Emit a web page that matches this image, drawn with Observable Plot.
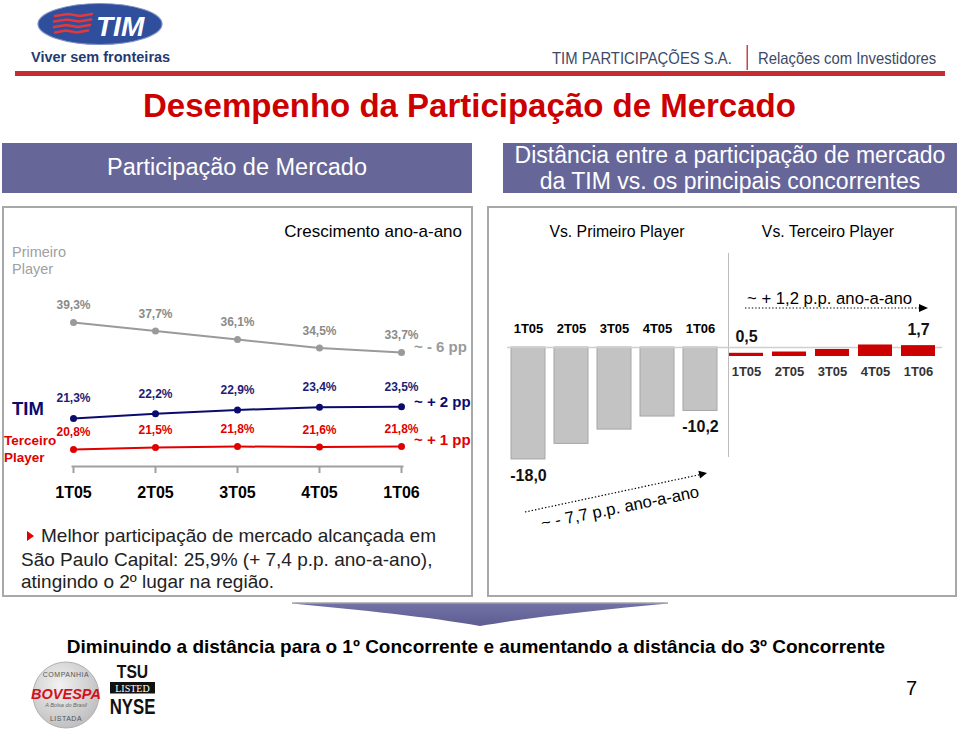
<!DOCTYPE html>
<html><head><meta charset="utf-8">
<script src="https://cdn.jsdelivr.net/npm/d3@7"></script>
<script src="https://cdn.jsdelivr.net/npm/@observablehq/plot@0.6"></script>
<style>
body{margin:0;background:#fff;}
#slide{position:relative;width:959px;height:734px;overflow:hidden;font-family:"Liberation Sans",Arial,sans-serif;background:#fff;}
.box{position:absolute;box-sizing:border-box;}
.plot-wrap{position:absolute;}
.plot-wrap svg{overflow:visible;}
</style></head>
<body><div id="slide"></div>
<script>
// ---------- data ----------
const quarters = ["1T05", "2T05", "3T05", "4T05", "1T06"];
const primeiroShare = [39.3, 37.7, 36.1, 34.5, 33.7];
const timShare = [21.3, 22.2, 22.9, 23.4, 23.5];
const terceiroShare = [20.8, 21.5, 21.8, 21.6, 21.8];
const gapVsPrimeiro = [-18.0, -15.5, -13.2, -11.1, -10.2];
const gapVsTerceiro = [0.5, 0.7, 1.1, 1.8, 1.7];

const slide = document.getElementById("slide");
const FONT = '"Liberation Sans", Arial, sans-serif';
const rows = arr => quarters.map((q, i) => ({q, v: arr[i], i}));
const ends = arr => rows(arr).filter(d => d.i === 0 || d.i === arr.length - 1);
const fmt = v => v.toFixed(1).replace(".", ",");

function T(txt, x, yc, o = {}) {
  const s = o.size || 14;
  const lh = o.lh || 1.15;
  const d = document.createElement("div");
  d.innerHTML = txt;
  const a = o.anchor || "start";
  const tx = a === "middle" ? "translateX(-50%)" : a === "end" ? "translateX(-100%)" : "";
  const sc = o.sx ? ` scaleX(${o.sx})` : "";
  const rot = o.rot ? ` rotate(${o.rot}deg)` : "";
  const top = yc - 0.56 * s + (1.15 - lh) * s / 2;
  d.style.cssText = `position:absolute;white-space:pre;left:${x}px;top:${top}px;font-size:${s}px;line-height:${lh * s}px;` +
    `font-weight:${o.weight || "normal"};color:${o.color || "#000"};font-style:${o.italic ? "italic" : "normal"};` +
    `text-align:${a === "middle" ? "center" : a === "end" ? "right" : "left"};` +
    `transform:${tx}${sc}${rot};transform-origin:${a === "middle" ? "center" : a === "end" ? "right" : "left"} center;`;
  slide.appendChild(d);
  return d;
}
function B(left, top, w, h, css) {
  const d = document.createElement("div");
  d.className = "box";
  d.style.cssText += `left:${left}px;top:${top}px;width:${w}px;height:${h}px;${css}`;
  slide.appendChild(d);
  return d;
}
function mount(svg, left, top) {
  const d = document.createElement("div");
  d.className = "plot-wrap";
  d.style.left = left + "px"; d.style.top = top + "px";
  d.appendChild(svg);
  slide.appendChild(d);
}
const svgStyle = {background: "transparent", overflow: "visible", fontFamily: FONT, color: "#000"};

// ---------- header ----------
T("Viver sem fronteiras", 31, 57, {size: 14.5, weight: "bold", color: "#1f3b73"});
T("TIM PARTICIPAÇÕES S.A.", 552, 58, {size: 16.5, sx: 0.9, color: "#3d4a66"});
T("Relações com Investidores", 758, 58, {size: 16.5, sx: 0.9, color: "#3d4a66"});
T("Desempenho da Participação de Mercado", 143, 105, {size: 33, weight: "bold", color: "#cc0000"});

// section header boxes
B(2, 143, 470, 50, "background:#666699;");
B(503, 143, 454, 50, "background:#666699;");
T("Participação de Mercado", 237, 167, {size: 23.5, color: "#fff", anchor: "middle"});
const hdr = document.createElement("div");
hdr.innerHTML = "Distância entre a participação de mercado<br>da TIM vs. os principais concorrentes";
hdr.style.cssText = "position:absolute;left:503px;width:454px;top:142.2px;text-align:center;font-size:23px;line-height:26px;color:#fff;white-space:nowrap;";
slide.appendChild(hdr);

// panels
B(2, 206, 471, 391, "border:2px solid #a8a8a8;");
B(487, 206, 470, 391, "border:2px solid #a8a8a8;");

// ---------- left panel ----------
T("Crescimento ano-a-ano", 462, 232, {size: 17, anchor: "end"});
T("Primeiro", 12, 252, {size: 14.5, color: "#a0a0a0"});
T("Player", 12, 269, {size: 14.5, color: "#a0a0a0"});
T("TIM", 12, 408, {size: 18.5, weight: "bold", color: "#0b0b6e"});
T("Terceiro", 4, 441, {size: 13.5, weight: "bold", color: "#e00000"});
T("Player", 4, 458, {size: 13.5, weight: "bold", color: "#e00000"});
T("~ - 6 pp", 414, 346, {size: 15, weight: "bold", color: "#9a9a9a"});
T("~ + 2 pp", 414, 401, {size: 15, weight: "bold", color: "#0b0b6e"});
T("~ + 1 pp", 414, 439, {size: 15, weight: "bold", color: "#e00000"});

const lbl = {fontSize: 12, fontWeight: "bold", fontFamily: FONT};

// Primeiro Player + TIM (shared share scale)
const plotA = Plot.plot({
  width: 472, height: 150, marginLeft: 72, marginRight: 70, marginTop: 0, marginBottom: 0,
  style: svgStyle,
  x: {type: "point", domain: quarters, padding: 0, axis: null},
  y: {domain: [20, 40], range: [144.9, 38.3], axis: null},
  marks: [
    Plot.line(rows(primeiroShare), {x: "q", y: "v", stroke: "#9a9a9a", strokeWidth: 2}),
    Plot.dot(rows(primeiroShare), {x: "q", y: "v", r: 3.5, fill: "#9a9a9a"}),
    Plot.text(rows(primeiroShare), {x: "q", y: "v", text: d => fmt(d.v) + "%", dy: -17, fill: "#8a8a8a", ...lbl}),
    Plot.line(rows(timShare), {x: "q", y: "v", stroke: "#0b0b6e", strokeWidth: 2}),
    Plot.dot(rows(timShare), {x: "q", y: "v", r: 3.5, fill: "#0b0b6e"}),
    Plot.text(rows(timShare), {x: "q", y: "v", text: d => fmt(d.v) + "%", dy: -20, fill: "#1c1c74", ...lbl})
  ]
});
mount(plotA, 0, 280);

// Terceiro Player + quarter axis
const plotB = Plot.plot({
  width: 472, height: 230, marginLeft: 72, marginRight: 70, marginTop: 0, marginBottom: 44,
  style: svgStyle,
  x: {type: "point", domain: quarters, padding: 0, label: null},
  y: {domain: [20, 23], range: [171.4, 162.4], axis: null},
  marks: [
    Plot.frame({anchor: "bottom", stroke: "#a0a0a0", strokeWidth: 2}),
    Plot.axisX({label: null, tickSize: 7, tickPadding: 13, stroke: "#a0a0a0", strokeWidth: 2, fontSize: 16, fontWeight: "bold", fontFamily: FONT}),
    Plot.line(rows(terceiroShare), {x: "q", y: "v", stroke: "#e00000", strokeWidth: 2}),
    Plot.dot(rows(terceiroShare), {x: "q", y: "v", r: 3.5, fill: "#e00000"}),
    Plot.text(rows(terceiroShare), {x: "q", y: "v", text: d => fmt(d.v) + "%", dy: -17, fill: "#e00000", ...lbl})
  ]
});
mount(plotB, 0, 280);

// bullet text
B(27, 531, 7, 10, "width:0;height:0;border-left:7px solid #e00000;border-top:5px solid transparent;border-bottom:5px solid transparent;");
T("Melhor participação de mercado alcançada em", 41, 536, {size: 19, color: "#222"});
T("São Paulo Capital: 25,9% (+ 7,4 p.p. ano-a-ano),", 21, 560, {size: 19, color: "#222"});
T("atingindo o 2º lugar na região.", 21, 582, {size: 19, color: "#222"});

// ---------- right panel ----------
T("Vs. Primeiro Player", 617, 232, {size: 15.8, anchor: "middle"});
T("Vs. Terceiro Player", 828, 232, {size: 15.8, anchor: "middle"});
B(728, 253, 1, 204, "background:#bdbdbd;");

const plotGray = Plot.plot({
  width: 470, height: 200, marginLeft: 27, marginRight: 8, marginTop: 47, marginBottom: 0,
  style: svgStyle,
  x: {domain: quarters, range: [25.2, 243.2], paddingInner: 0.22, paddingOuter: 0.11, label: null},
  y: {domain: [-20, 0], range: [171.4, 47], axis: null},
  marks: [
    Plot.barY(rows(gapVsPrimeiro), {x: "q", y: "v", fill: "#c3c3c3", stroke: "#a6a6a6", strokeWidth: 1}),
    Plot.ruleY([0], {stroke: "#cfcfcf", strokeWidth: 1.5}),
    Plot.axisX({anchor: "top", label: null, tickSize: 0, tickPadding: 15, fontSize: 13, fontWeight: "bold", fontFamily: FONT}),
    Plot.text(ends(gapVsPrimeiro), {x: "q", y: "v", text: d => fmt(d.v), dy: 16, fontSize: 16, fontWeight: "bold", fontFamily: FONT, fill: "#111"})
  ]
});
mount(plotGray, 480, 300);

const plotRed = Plot.plot({
  width: 230, height: 100, marginLeft: 0, marginRight: 0, marginTop: 30, marginBottom: 44,
  style: svgStyle,
  x: {domain: quarters, range: [3.2, 221.2], paddingInner: 0.22, paddingOuter: 0.11, label: null},
  y: {domain: [0, 2], range: [56, 43.2], axis: null},
  marks: [
    Plot.barY(rows(gapVsTerceiro), {x: "q", y: "v", fill: "#cc0000"}),
    Plot.axisX({label: null, tickSize: 0, tickPadding: 10, fontSize: 13, fontWeight: "bold", fontFamily: FONT, fill: "#333"}),
    Plot.text(ends(gapVsTerceiro), {x: "q", y: "v", text: d => fmt(d.v), dy: -16, fontSize: 16, fontWeight: "bold", fontFamily: FONT, fill: "#111"})
  ]
});
mount(plotRed, 720, 300);

T("~ + 1,2 p.p. ano-a-ano", 747, 298, {size: 16.7});
T("~ - 7,7 p.p. ano-a-ano", 620, 507, {size: 16.7, anchor: "middle", rot: -11.5});

// ---------- bottom ----------
T("Diminuindo a distância para o 1º Concorrente e aumentando a distância do 3º Concorrente", 476, 647, {size: 19, weight: "bold", anchor: "middle"});
T("7", 906, 688, {size: 20});

// ---------- decorations (logos, rules, arrows) ----------
const deco = `
<svg width="959" height="734" style="position:absolute;left:0;top:0;pointer-events:none" font-family='${FONT}'>
  <defs>
    <linearGradient id="arrowG" x1="0" y1="0" x2="0" y2="1">
      <stop offset="0" stop-color="#7272a6"/><stop offset="1" stop-color="#5d5d93"/>
    </linearGradient>
    <radialGradient id="bovG" cx="0.4" cy="0.35" r="0.7">
      <stop offset="0" stop-color="#f2f2f2"/><stop offset="1" stop-color="#bdbdbd"/>
    </radialGradient>
  </defs>
  <ellipse cx="100" cy="24" rx="62" ry="20.5" fill="#2f4e9c" stroke="#8193c6" stroke-width="1.2"/>
  <g stroke="#e23a3a" stroke-width="2.6" fill="none" stroke-linecap="round">
    <path d="M55 16 L68 14 L80 16 L92 14"/>
    <path d="M54 21.5 L67 19.5 L79 21.5 L91 19.5"/>
    <path d="M54 27 L66 25 L78 27 L90 25"/>
    <path d="M55 32.5 L66 30.5 L77 32.5 L88 30.5"/>
  </g>
  <text x="96" y="35.5" font-size="28" font-weight="bold" font-style="italic" fill="#fff">TIM</text>
  <rect x="15" y="71" width="930" height="5" fill="#c62d33"/>
  <rect x="746.5" y="45" width="1.5" height="25" fill="#c94545"/>
  <line x1="292" y1="603" x2="668" y2="603" stroke="#a5a5a5" stroke-width="1.5"/>
  <path d="M292,603.5 L668,603.5 C600,610 530,617 480,626 C430,617 360,610 292,603.5 Z" fill="url(#arrowG)"/>
  <line x1="745" y1="308" x2="920" y2="308" stroke="#000" stroke-width="1.2" stroke-dasharray="1.4 2"/>
  <polygon points="919,304 928,308 919,312" fill="#000"/>
  <line x1="525" y1="512" x2="700" y2="474.6" stroke="#000" stroke-width="1.2" stroke-dasharray="1.4 2"/>
  <polygon points="707,473 700.0,478.6 698.4,470.8" fill="#000"/>
  <circle cx="66" cy="695" r="33" fill="url(#bovG)" stroke="#b0b0b0"/>
  <text x="66" y="677" font-size="7" text-anchor="middle" fill="#555" letter-spacing="0.5">COMPANHIA</text>
  <text x="66" y="699" font-size="14.5" font-weight="bold" font-style="italic" text-anchor="middle" fill="#d4111b">BOVESPA</text>
  <text x="66" y="707" font-size="5.5" font-style="italic" text-anchor="middle" fill="#666">A Bolsa do Brasil</text>
  <text x="66" y="721" font-size="7" text-anchor="middle" fill="#555" letter-spacing="0.5">LISTADA</text>
  <text transform="translate(132.5,678) scale(0.85,1)" font-size="18.5" font-weight="bold" text-anchor="middle" fill="#111">TSU</text>
  <rect x="110" y="682" width="45" height="11.5" fill="#111"/>
  <text x="132.5" y="691.5" font-size="10" font-family="Liberation Serif" text-anchor="middle" fill="#fff">LISTED</text>
  <text transform="translate(132.5,713.5) scale(0.78,1)" font-size="21.5" font-weight="bold" text-anchor="middle" fill="#111">NYSE</text>
</svg>`;
slide.insertAdjacentHTML("beforeend", deco);
</script>
</body></html>
